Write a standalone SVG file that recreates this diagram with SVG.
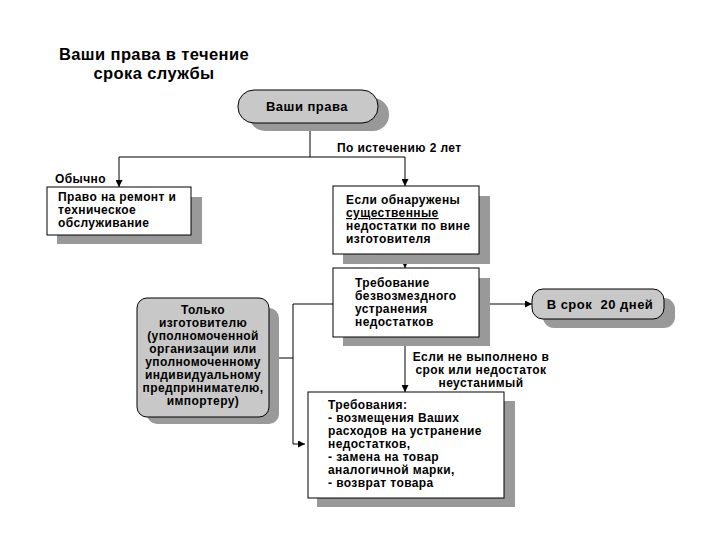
<svg xmlns="http://www.w3.org/2000/svg" width="720" height="540" viewBox="0 0 720 540">
<defs>
<style>
text{font-family:"Liberation Sans",Arial,sans-serif;font-weight:bold;font-size:12px;fill:#000;letter-spacing:0.4px}
.title{font-size:16.5px;letter-spacing:0.4px}
.big{font-size:13px;letter-spacing:0.5px}
.box{fill:#fff;stroke:#000;stroke-width:1}
.pill{fill:#c8c8c8;stroke:#000;stroke-width:1}
.shadow{fill:#999}
.line{fill:none;stroke:#000;stroke-width:1}
</style>
<marker id="arr" viewBox="0 0 10 10" refX="10" refY="5" markerWidth="7" markerHeight="7" orient="auto" markerUnits="userSpaceOnUse">
<path d="M0,0 L10,5 L0,10 z" fill="#000"/>
</marker>
</defs>
<rect width="720" height="540" fill="#fff"/>
<g id="title">
<text class="title" x="154" y="60" text-anchor="middle">Ваши права в течение</text>
<text class="title" x="154" y="79" text-anchor="middle">срока службы</text>
</g>
<g id="connectors">
<path class="line" d="M310,123 V157"/>
<path class="line" d="M119,157 H405"/>
<path class="line" d="M119,157 V187" marker-end="url(#arr)"/>
<path class="line" d="M405,157 V186" marker-end="url(#arr)"/>
<path class="line" d="M405,254 V268" marker-end="url(#arr)"/>
<path class="line" d="M479,304 H532" marker-end="url(#arr)"/>
<path class="line" d="M333,304 H293 V444 H305" marker-end="url(#arr)"/>
<path class="line" d="M293,358 H269" marker-end="url(#arr)"/>
<path class="line" d="M405,337 V392" marker-end="url(#arr)"/>
<text x="337" y="152">По истечению 2 лет</text>
<text x="55" y="183">Обычно</text>
<text x="481" y="361" text-anchor="middle">Если не выполнено в</text>
<text x="481" y="374" text-anchor="middle">срок или недостаток</text>
<text x="481" y="387" text-anchor="middle">неустанимый</text>
</g>
<g id="n-rights">
<rect class="shadow" x="249" y="98" width="140" height="33" rx="16"/>
<rect class="pill" x="238" y="90" width="140" height="33" rx="16"/>
<text class="big" x="307" y="111" text-anchor="middle">Ваши права</text>
</g>
<g id="n-repair">
<rect class="shadow" x="57" y="197" width="145" height="47"/>
<rect class="box" x="47" y="187" width="144" height="48"/>
<text x="58" y="201">Право на ремонт и</text>
<text x="58" y="214">техническое</text>
<text x="58" y="227">обслуживание</text>
</g>
<g id="n-found">
<rect class="shadow" x="343" y="196" width="147" height="68"/>
<rect class="box" x="333" y="186" width="146" height="68"/>
<text x="346" y="204">Если обнаружены</text>
<text x="346" y="217" text-decoration="underline">существенные</text>
<text x="346" y="230">недостатки по вине</text>
<text x="346" y="243">изготовителя</text>
</g>
<g id="n-demand">
<rect class="shadow" x="343" y="278" width="147" height="68"/>
<rect class="box" x="333" y="268" width="146" height="69"/>
<text x="355" y="287">Требование</text>
<text x="355" y="300">безвозмездного</text>
<text x="355" y="313">устранения</text>
<text x="355" y="326">недостатков</text>
</g>
<g id="n-term">
<rect class="shadow" x="543" y="298" width="132" height="30" rx="11"/>
<rect class="pill" x="532" y="289" width="132" height="30" rx="11"/>
<text class="big" x="600" y="309" text-anchor="middle" xml:space="preserve">В срок  20 дней</text>
</g>
<g id="n-maker">
<rect class="shadow" x="147" y="308" width="132" height="116" rx="10"/>
<rect class="pill" x="137" y="298" width="132" height="119" rx="10"/>
<text x="203" y="314" text-anchor="middle">Только</text>
<text x="203" y="327" text-anchor="middle">изготовителю</text>
<text x="203" y="340" text-anchor="middle">(уполномоченной</text>
<text x="203" y="353" text-anchor="middle">организации или</text>
<text x="203" y="366" text-anchor="middle">уполномоченному</text>
<text x="203" y="379" text-anchor="middle">индивидуальному</text>
<text x="203" y="392" text-anchor="middle">предпринимателю,</text>
<text x="203" y="405" text-anchor="middle">импортеру)</text>
</g>
<g id="n-claims">
<rect class="shadow" x="317" y="401" width="198" height="106"/>
<rect class="box" x="308" y="392" width="196" height="106"/>
<text x="328" y="409">Требования:</text>
<text x="328" y="422">- возмещения Ваших</text>
<text x="328" y="435">расходов на устранение</text>
<text x="328" y="448">недостатков,</text>
<text x="328" y="461">- замена на товар</text>
<text x="328" y="474">аналогичной марки,</text>
<text x="328" y="487">- возврат товара</text>
</g>
</svg>
